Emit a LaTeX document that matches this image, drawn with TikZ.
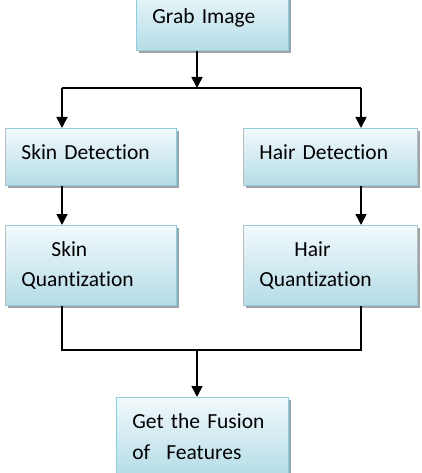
\documentclass[tikz,border=0pt]{standalone}
\usepackage{fontspec}
\setmainfont[Ligatures=NoCommon]{Carlito}
\usetikzlibrary{arrows.meta, shadows, calc}
\definecolor{boxtop}{HTML}{F2FAFC}
\definecolor{boxbot}{HTML}{B4DCE7}
\definecolor{boxline}{HTML}{93CDDD}
\tikzset{
    my-step-box/.style={
        draw=boxline, line width=0.8pt, top color=boxtop, bottom color=boxbot,
        drop shadow={shadow xshift=3pt, shadow yshift=-3pt, fill=black!45, opacity=0.8},
        align=left, anchor=north west, inner xsep=16pt, inner ysep=0pt,
        font=\fontsize{21.5}{30.5}\selectfont
    },
    my-wire/.style={line width=1.6pt},
    my-arrow/.style={my-wire, -{Triangle[width=11pt, length=11pt]}},
}
\begin{document}
\begin{tikzpicture}[x=1pt, y=-1pt]

        \useasboundingbox (0,0) rectangle (421,473);

        % BOXES
        \node[my-step-box, text width=120pt, minimum height=66pt] (GRAB) at (136,-16)
            {Grab Image};
        \node[my-step-box, text width=139pt, minimum height=57pt, text depth=10pt] (SKINDET) at (5,128)
            {Skin Detection};
        \node[my-step-box, text width=142pt, minimum height=57pt, text depth=10pt] (HAIRDET) at (243,128)
            {Hair Detection};
        \node[my-step-box, text width=139pt, minimum height=80pt] (SKINQ) at (5,225)
            {\hspace*{30pt}Skin\\Quantization};
        \node[my-step-box, text width=142pt, minimum height=80pt] (HAIRQ) at (243,225)
            {\hspace*{35pt}Hair\\Quantization};
        \node[my-step-box, text width=140pt, minimum height=78pt] (FUSION) at (116,397)
            {Get the Fusion\\of\hspace*{16pt}Features};

        % WIRES CONNECTOR POINTS
        \coordinate[] (SPLIT)  at (197,88);
        \coordinate[] (SPLITL) at (62,88);
        \coordinate[] (SPLITR) at (361,88);
        \coordinate[] (JOIN)   at (197,350);
        \coordinate[] (JOINL)  at (62,350);
        \coordinate[] (JOINR)  at (361,350);

        % GRAB CONNECTIONS
        \draw[my-arrow] (GRAB.south -| SPLIT) -- (SPLIT);
        \draw[my-wire] (SPLITL) -- (SPLITR);
        \draw[my-arrow] (SPLITL) -- (SKINDET.north -| SPLITL);
        \draw[my-arrow] (SPLITR) -- (HAIRDET.north -| SPLITR);

        % DETECTION CONNECTIONS
        \draw[my-arrow] (SKINDET.south -| SPLITL) -- (SKINQ.north -| SPLITL);
        \draw[my-arrow] (HAIRDET.south -| SPLITR) -- (HAIRQ.north -| SPLITR);

        % QUANTIZATION CONNECTIONS
        \draw[my-wire] (SKINQ.south -| JOINL) -- (JOINL) -- (JOINR) -- (HAIRQ.south -| JOINR);
        \draw[my-arrow] (JOIN) -- (FUSION.north -| JOIN);

    \end{tikzpicture}
\end{document}
